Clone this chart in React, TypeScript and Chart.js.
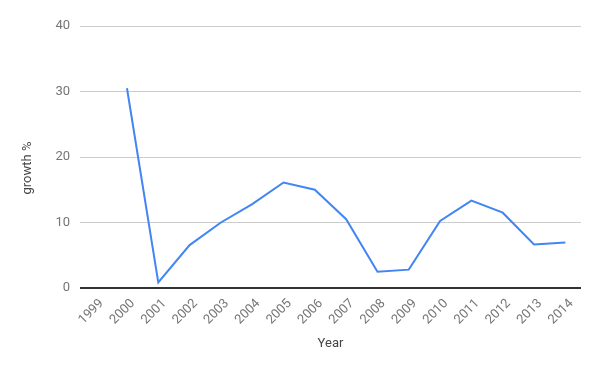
import React, { useEffect, useRef } from "react";
import { Chart, registerables } from "chart.js";

Chart.register(...registerables);

const years = ["1999","2000","2001","2002","2003","2004","2005","2006","2007","2008","2009","2010","2011","2012","2013","2014"];
const growth: (number | null)[] = [null, 30.5, 0.85, 6.55, 10.0, 12.8, 16.1, 15.0, 10.5, 2.48, 2.8, 10.25, 13.35, 11.5, 6.65, 6.95];
const yTicks = [0, 10, 20, 30, 40];
const yTitle = "growth %";
const xTitle = "Year";

const yTitlePlugin = {
  id: "yTitlePlugin",
  afterDraw(chart: any) {
    const ctx = chart.ctx;
    const area = chart.chartArea;
    ctx.save();
    ctx.translate(28, (area.top + area.bottom) / 2 + 11);
    ctx.rotate(-Math.PI / 2);
    ctx.fillStyle = "#444";
    ctx.font = "13px Roboto";
    ctx.textAlign = "center";
    ctx.textBaseline = "middle";
    ctx.fillText(yTitle, 0, 0);
    ctx.restore();
  },
};

export default function App() {
  const ref = useRef<HTMLCanvasElement | null>(null);
  useEffect(() => {
    document.body.style.margin = "0";
    const canvas = ref.current!;
    const chart = new Chart(canvas, {
      type: "line",
      data: {
        labels: years,
        datasets: [
          {
            label: yTitle,
            data: growth,
            borderColor: "#4285f4",
            backgroundColor: "#4285f4",
            borderWidth: 2,
            pointRadius: 0,
            tension: 0,
            spanGaps: false,
          },
        ],
      },
      options: {
        animation: false,
        responsive: false,
        maintainAspectRatio: false,
        layout: { padding: { left: 0, right: 19, top: 26, bottom: 19 } },
        plugins: { legend: { display: false }, tooltip: { enabled: false } },
        scales: {
          x: {
            offset: true,
            grid: { display: false, drawTicks: false },
            border: { display: false },
            ticks: {
              autoSkip: false,
              maxRotation: 45,
              minRotation: 45,
              padding: 8,
              labelOffset: 6,
              color: "#757575",
              font: { family: "Roboto", size: 13 },
            },
            title: {
              display: true,
              text: xTitle,
              color: "#444",
              font: { family: "Roboto", size: 13 },
              padding: { top: 4, bottom: 0 },
            },
            afterFit: (s: any) => { s.height = 64; },
          },
          y: {
            min: 0,
            max: 40,
            afterBuildTicks: (s: any) => { s.ticks = yTicks.map((v) => ({ value: v })); },
            grid: {
              color: (c: any) => (c.tick && c.tick.value === 0 ? "#333" : "#ccc"),
              lineWidth: (c: any) => (c.tick && c.tick.value === 0 ? 2 : 1),
              drawTicks: false,
            },
            border: { display: false },
            ticks: {
              padding: 10,
              color: "#757575",
              font: { family: "Roboto", size: 13 },
            },
            afterFit: (s: any) => { s.width = 80; },
          },
        },
      },
      plugins: [yTitlePlugin],
    });
    return () => chart.destroy();
  }, []);
  return (
    <div style={{ width: 600, height: 371 }}>
      <canvas ref={ref} width={600} height={371} style={{ display: "block" }} />
    </div>
  );
}
